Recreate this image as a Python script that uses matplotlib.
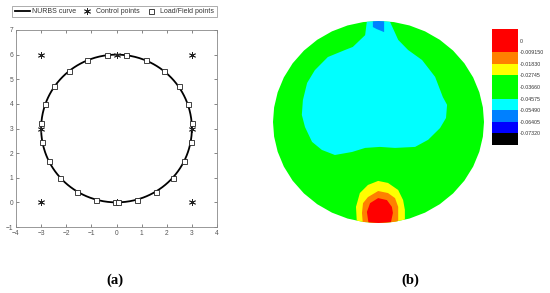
import numpy as np
import matplotlib
matplotlib.use("Agg")
import matplotlib.pyplot as plt
from matplotlib.patches import Polygon
from matplotlib.colors import ListedColormap, BoundaryNorm
import matplotlib.colorbar as mcolorbar

# ---------------- data: panel (a) ----------------
ctrl_x = [0, -3, -3, -3, 0, 3, 3, 3, 0]
ctrl_y = [0, 0, 3, 6, 6, 6, 3, 0, 0]
ctrl_w = [1, np.sqrt(2) / 2, 1, np.sqrt(2) / 2, 1, np.sqrt(2) / 2, 1, np.sqrt(2) / 2, 1]
knots = [0, 0, 0, 0.25, 0.25, 0.5, 0.5, 0.75, 0.75, 1, 1, 1]

field_x = [-0.39, 0.39, -1.17, 1.17, -1.90, 1.90, -2.48, 2.48, -2.85, 2.85, -3.01, 3.01,
           -2.97, 2.97, -2.70, 2.70, -2.23, 2.23, -1.57, 1.57, -0.82, 0.82, -0.05, 0.05]
field_y = [6.00, 6.00, 5.77, 5.77, 5.35, 5.35, 4.73, 4.73, 4.00, 4.00, 3.23, 3.23,
           2.44, 2.44, 1.67, 1.67, 1.00, 1.00, 0.43, 0.43, 0.11, 0.11, 0.00, 0.00]

# ---------------- data: panel (b) ----------------
level_bounds = [-0.08235, -0.07320, -0.06405, -0.05490, -0.04575, -0.03660,
                -0.02745, -0.01830, -0.009150, 0.0, 0.00915]
level_colors = ["#000000", "#0000ff", "#0080ff", "#00ffff", "#00ff00", "#00ff00",
                "#ffff00", "#ff8000", "#ff0000", "#ff0000"]
tick_values = [-0.07320, -0.06405, -0.05490, -0.04575, -0.03660, -0.02745, -0.01830, -0.009150, 0.0]
tick_labels = ["-0.07320", "-0.06405", "-0.05490", "-0.04575", "-0.03660", "-0.02745",
               "-0.01830", "-0.009150", "0"]

cyan_x = [-0.33, -0.33, -0.38, -0.73, -0.95, -1.44, -1.81, -2.03, -2.15, -2.18, -2.09, -1.89,
          -1.61, -1.24, -0.75, -0.38, 0.04, 0.47, 1.04, 1.41, 1.75, 1.92, 1.95, 1.83, 1.61,
          1.24, 0.84, 0.56, 0.33, 0.33]
cyan_y = [6.3, 6.0, 5.58, 5.23, 5.14, 4.93, 4.54, 4.16, 3.65, 3.21, 2.85, 2.41,
          2.17, 2.02, 2.11, 2.23, 2.26, 2.23, 2.26, 2.47, 2.82, 3.12, 3.51, 3.74, 4.34,
          4.84, 5.14, 5.44, 5.97, 6.3]
notch_x = [-0.16, 0.16, 0.16, -0.05, -0.16]
notch_y = [6.2, 6.2, 5.67, 5.76, 5.82]
yellow_x = [-0.61, -0.64, -0.53, -0.30, -0.01, 0.27, 0.56, 0.70, 0.75, 0.75]
yellow_y = [-0.10, 0.48, 0.89, 1.13, 1.25, 1.19, 0.98, 0.68, 0.39, -0.10]
orange_x = [-0.44, -0.47, -0.44, -0.30, -0.01, 0.27, 0.47, 0.56, 0.56]
orange_y = [-0.10, 0.30, 0.59, 0.77, 0.95, 0.89, 0.74, 0.48, -0.10]
red_x = [-0.27, -0.33, -0.24, -0.01, 0.24, 0.38, 0.41, 0.33]
red_y = [-0.10, 0.33, 0.59, 0.74, 0.68, 0.48, 0.30, -0.10]


def nurbs_curve(px, py, w, kv, n):
    px, py, w, kv = map(np.asarray, (px, py, w, kv))
    p = 2
    us = np.linspace(0, 1, n)
    out = []
    for u in us:
        nb = len(px)
        N = np.zeros(len(kv) - 1)
        for i in range(len(kv) - 1):
            if (kv[i] <= u < kv[i + 1]) or (u == 1 and kv[i] < u <= kv[i + 1]):
                N[i] = 1.0
        for k in range(1, p + 1):
            Nn = np.zeros(len(kv) - 1 - k)
            for i in range(len(Nn)):
                a = 0.0
                if kv[i + k] != kv[i]:
                    a = (u - kv[i]) / (kv[i + k] - kv[i]) * N[i]
                b = 0.0
                if kv[i + k + 1] != kv[i + 1]:
                    b = (kv[i + k + 1] - u) / (kv[i + k + 1] - kv[i + 1]) * N[i + 1]
                Nn[i] = a + b
            N = Nn
        N = N[:nb]
        den = np.sum(N * w)
        out.append((np.sum(N * w * px) / den, np.sum(N * w * py) / den))
    return np.array(out)


W, H = 550, 293
fig = plt.figure(figsize=(5.5, 2.93), dpi=100)
plt.rcParams['font.family'] = ['Liberation Sans', 'DejaVu Sans']


def fax(l, t, r, b):
    return [l / W, 1 - b / H, (r - l) / W, (b - t) / H]


# ---------------- panel (a) ----------------
ax = fig.add_axes(fax(16, 30, 217, 227))
curve = nurbs_curve(ctrl_x, ctrl_y, ctrl_w, knots, 400)
ax.plot(curve[:, 0], curve[:, 1], color="black", lw=1.3, label="NURBS curve", zorder=2)
ax.plot(ctrl_x, ctrl_y, linestyle="none", marker=(6, 2, 0), ms=5, mew=0.6,
        color="#222222", label="Control points", zorder=3)
ax.plot(field_x, field_y, linestyle="none", marker="s", ms=3.6, mfc="white",
        mec="#222222", mew=0.6, label="Load/Field points", zorder=4)
ax.set_xlim(-4, 4)
ax.set_ylim(-1, 7)
ax.set_xticks(range(-4, 5))
ax.set_yticks(range(-1, 8))
ax.tick_params(direction="in", length=2, width=0.5, labelsize=4.8, colors="#555555",
               top=True, right=True, pad=2)
for s in ax.spines.values():
    s.set_color("#888888")
    s.set_linewidth(0.6)
leg = ax.legend(loc="lower center", bbox_to_anchor=(0.49, 1.065), ncol=3, fontsize=5,
                frameon=True, fancybox=False, borderpad=0.3, handlelength=2.2,
                handletextpad=0.25, columnspacing=0.5, borderaxespad=0)
leg.get_frame().set_edgecolor("#888888")
leg.get_frame().set_linewidth(0.6)
for t in leg.get_texts():
    t.set_color("#333333")

fig.text(115 / W, 1 - 280 / H, "(a)", ha="center", va="center", fontsize=10.5,
         family=["Liberation Serif", "DejaVu Serif"], fontweight="bold")
fig.text(410 / W, 1 - 280 / H, "(b)", ha="center", va="center", fontsize=10.5,
         family=["Liberation Serif", "DejaVu Serif"], fontweight="bold")

# ---------------- panel (b) ----------------
bx = fig.add_axes(fax(273, 21, 484, 223))
bx.set_xlim(-3, 3)
bx.set_ylim(0, 6)
bx.axis("off")
domain = nurbs_curve(ctrl_x, ctrl_y, ctrl_w, knots, 41)
dom = Polygon(domain, closed=True, facecolor=level_colors[4], edgecolor="none")
bx.add_patch(dom)
for xs, ys, col in [(cyan_x, cyan_y, level_colors[3]),
                    (notch_x, notch_y, level_colors[2]),
                    (yellow_x, yellow_y, level_colors[6]),
                    (orange_x, orange_y, level_colors[7]),
                    (red_x, red_y, level_colors[8])]:
    p = Polygon(np.column_stack([xs, ys]), closed=True, facecolor=col, edgecolor="none")
    bx.add_patch(p)
    p.set_clip_path(dom)

cax = fig.add_axes(fax(492, 29, 518, 145))
cmap = ListedColormap(level_colors)
norm = BoundaryNorm(level_bounds, cmap.N)
cb = mcolorbar.ColorbarBase(cax, cmap=cmap, norm=norm, boundaries=level_bounds,
                            spacing="uniform", orientation="vertical")
cb.outline.set_visible(False)
cb.set_ticks(tick_values)
cb.set_ticklabels(tick_labels)
cax.minorticks_off()
cax.tick_params(which="both", length=0, labelsize=3.8, pad=1.5, colors="#333333")

fig.savefig("out.png", dpi=100)
